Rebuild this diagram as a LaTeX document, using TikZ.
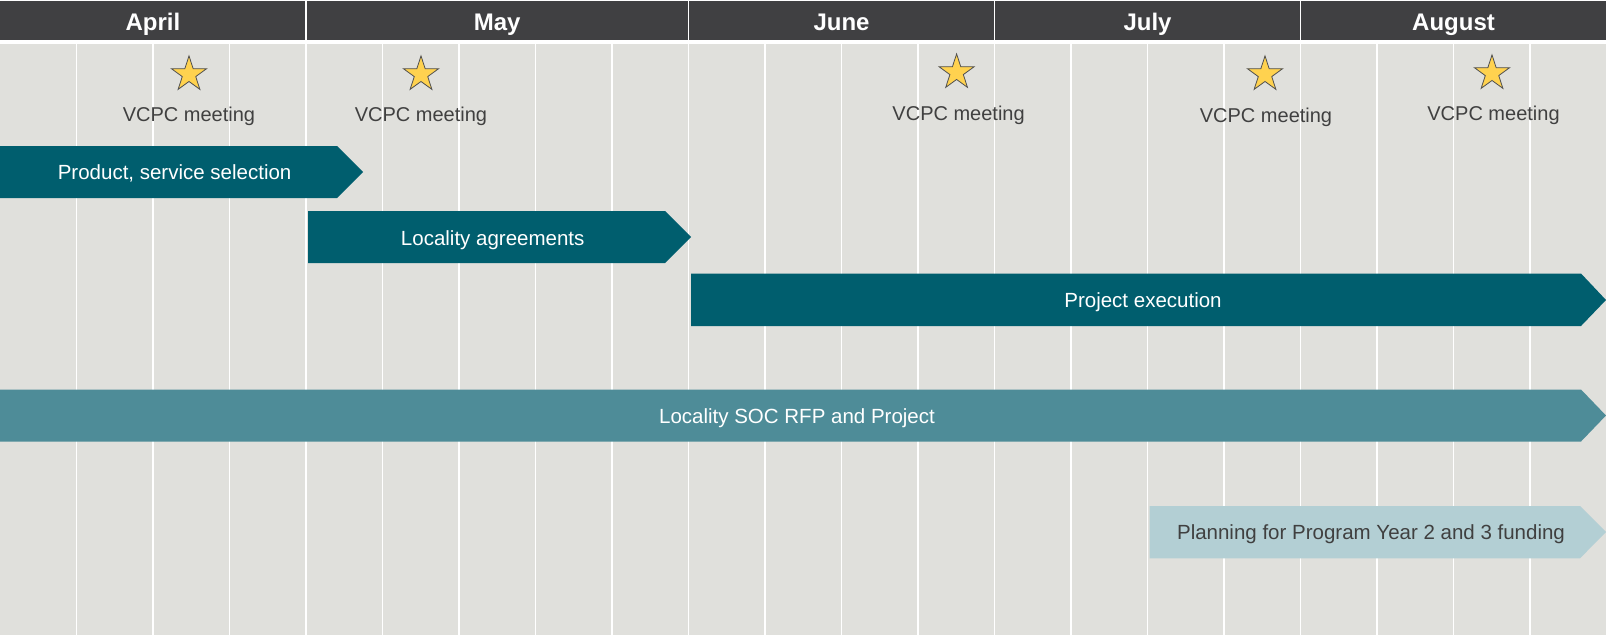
\documentclass[tikz,border=0pt]{standalone}
\usepackage{fontspec}
\setmainfont{Liberation Sans}
\usetikzlibrary{shapes.geometric}
\definecolor{hdr}{HTML}{404042}
\definecolor{bgray}{HTML}{E0E0DC}
\definecolor{tealdark}{HTML}{005E6E}
\definecolor{tealmid}{HTML}{4E8C98}
\definecolor{teallight}{HTML}{B3CFD4}
\definecolor{staryellow}{HTML}{FFD24F}
\definecolor{stargray}{HTML}{505050}
\definecolor{lbl}{HTML}{404040}
\begin{document}
\begin{tikzpicture}[x=1pt,y=-1pt,
  month/.style={text=white,font=\fontsize{24}{28}\selectfont\bfseries,anchor=base,inner sep=0pt},
  meet/.style={text=lbl,font=\fontsize{20}{24}\selectfont,anchor=base,inner sep=0pt},
  star5/.style={star,star points=5,star point ratio=2.618,minimum size=37pt,inner sep=0pt,fill=staryellow,draw=stargray,line width=0.8pt},
  barlabel/.style={font=\fontsize{20.5}{24}\selectfont,anchor=base,inner sep=0pt},
  gridline/.style={white,line width=1.5pt}]
\useasboundingbox (0,0) rectangle (1606,635);
\fill[white] (0,0) rectangle (1606,635);
% header
\fill[hdr] (0,1) rectangle (1606,40);
\foreach \x in {306,688.5,994.5,1300.5} \draw[gridline] (\x,1) -- (\x,40);
% background
\fill[bgray] (0,44) rectangle (1606,635);
\foreach \k in {1,...,20} \draw[gridline] (\k*76.5,44) -- (\k*76.5,635);
% months
\node[month] (apr) at (153,30.7) {April};
\node[month] (may) at (497.25,30.7) {May};
\node[month] (jun) at (841.5,30.7) {June};
\node[month] (jul) at (1147.5,30.7) {July};
\node[month] (aug) at (1453.5,30.7) {August};
% meetings
\node[star5] (s1) at (189,74.4) {};
\node[star5] (s2) at (421,74.4) {};
\node[star5] (s3) at (956.6,72.4) {};
\node[star5] (s4) at (1265,74.4) {};
\node[star5] (s5) at (1492,73.4) {};
\node[meet] (m1) at (189,121.7) {VCPC meeting};
\node[meet] (m2) at (421,121.7) {VCPC meeting};
\node[meet] (m3) at (958.6,120.7) {VCPC meeting};
\node[meet] (m4) at (1266,122.7) {VCPC meeting};
\node[meet] (m5) at (1493.5,120.7) {VCPC meeting};
% bars
\fill[tealdark] (0,146) -- (337,146) -- (363,172) -- (337,198) -- (0,198) -- cycle;
\node[barlabel,text=white] (b1) at (174.6,179.5) {Product, service selection};
\fill[tealdark] (308,211) -- (665,211) -- (691,237) -- (665,263) -- (308,263) -- cycle;
\node[barlabel,text=white] (b2) at (492.7,245) {Locality agreements};
\fill[tealdark] (691,273.5) -- (1581,273.5) -- (1606,300) -- (1581,326) -- (691,326) -- cycle;
\node[barlabel,text=white] (b3) at (1143,307.5) {Project execution};
\fill[tealmid] (0,389.5) -- (1581,389.5) -- (1606,415.5) -- (1581,441.5) -- (0,441.5) -- cycle;
\node[barlabel,text=white] (b4) at (797,423) {Locality SOC RFP and Project};
\fill[teallight] (1149.5,506) -- (1580,506) -- (1606,532) -- (1580,558.3) -- (1149.5,558.3) -- cycle;
\node[barlabel,text=lbl] (b5) at (1371,539.3) {Planning for Program Year 2 and 3 funding};
\end{tikzpicture}
\end{document}
